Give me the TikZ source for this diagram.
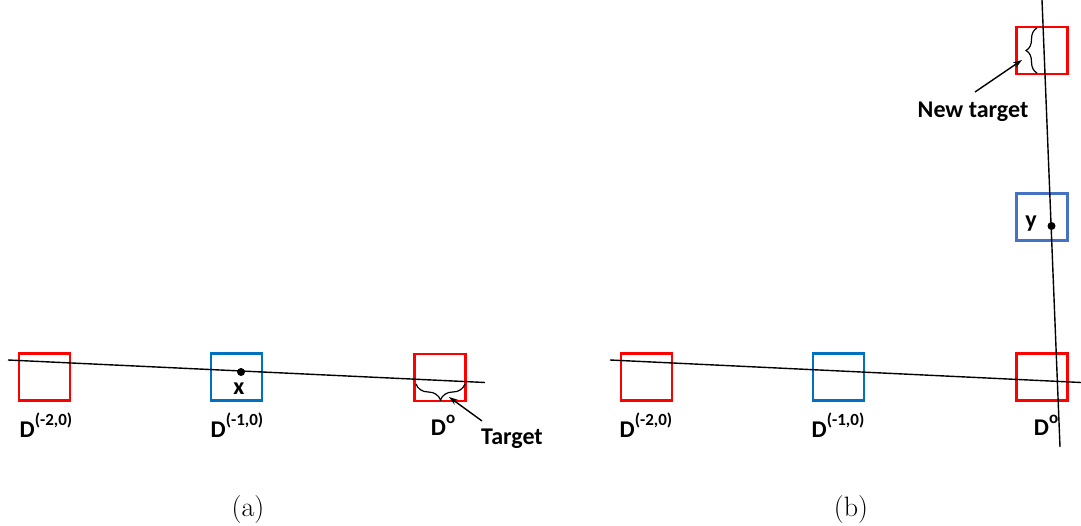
\documentclass[tikz,border=0pt]{standalone}
\usepackage{fontspec}
\setmainfont{Carlito}
\newfontfamily\lmfont{Latin Modern Roman}
\usetikzlibrary{decorations.pathreplacing,arrows.meta}
\definecolor{boxred}{RGB}{255,0,0}
\definecolor{boxblue}{RGB}{0,112,192}
\definecolor{boxblueb}{RGB}{68,114,196}
\newcommand\Dlab[1]{D\raisebox{0.5em}{\fontsize{17}{17}\selectfont #1}}
\begin{document}
\begin{tikzpicture}[x=1pt,y=-1pt,
  cell/.style={draw,line width=2.6pt,minimum width=51pt,minimum height=47pt,inner sep=0pt},
  redcell/.style={cell,draw=boxred},
  bluecell/.style={cell,draw=boxblue},
  bluecellb/.style={cell,draw=boxblueb},
  ray/.style={line width=1.4pt},
  lab/.style={font=\fontsize{24}{26}\selectfont\bfseries,inner sep=0pt},
  captext/.style={font=\lmfont\fontsize{28}{30}\selectfont,inner sep=0pt},
  dot/.style={circle,fill=black,inner sep=0pt,minimum size=8pt},
  brc/.style={decorate,decoration={brace,amplitude=#1},line width=1.2pt},
  arr/.style={line width=1.4pt,-{Stealth[length=9pt,width=6pt]}}]
\useasboundingbox (0,0) rectangle (1081,526);
% ---------- panel (a)
\node[redcell] (ar1) at (44.5,377) {};
\node[bluecell] (ab) at (236.5,377) {};
\node[redcell] (ar3) at (440,377.5) {};
\coordinate (al1) at (8,360);
\coordinate (al2) at (485,382.5);
\draw[ray] (al1) -- (al2);
\node[dot] (xd) at (241,372) {};
\node[lab] (xl) at (239,389) {x};
\node[lab] (ad1) at (46,425) {\Dlab{(-2,0)}};
\node[lab] (ad2) at (237,425) {\Dlab{(-1,0)}};
\node[lab] (ad3) at (443,425) {\Dlab{o}};
\coordinate (abr1) at (465,384);
\coordinate (abr2) at (416,384);
\draw[brc=16pt] (abr1) -- (abr2);
\node[lab] (tgt) at (512,439) {Target};
\coordinate (ta) at (482,421);
\coordinate (tb) at (449,397);
\draw[arr] (ta) -- (tb);
\node[captext] (capa) at (248,510) {(a)};
% ---------- panel (b)
\node[redcell] (br1) at (646.5,377) {};
\node[bluecell] (bb) at (838.5,377) {};
\node[redcell] (br3) at (1042,377) {};
\node[redcell] (btop) at (1042,50.5) {};
\node[bluecellb] (by) at (1042,217) {};
\coordinate (bl1) at (610,360);
\coordinate (bl2) at (1081,382.5);
\draw[ray] (bl1) -- (bl2);
\coordinate (bv1) at (1042,0);
\coordinate (bv2) at (1060,447);
\draw[ray] (bv1) -- (bv2);
\node[dot] (yd) at (1051.5,226) {};
\node[lab] (yl) at (1031,224) {y};
\node[lab] (bd1) at (646,425) {\Dlab{(-2,0)}};
\node[lab] (bd2) at (838,425) {\Dlab{(-1,0)}};
\node[lab] (bd3) at (1046,425) {\Dlab{o}};
\coordinate (bbr1) at (1037,73);
\coordinate (bbr2) at (1037,28);
\draw[brc=11pt] (bbr1) -- (bbr2);
\node[lab] (ntgt) at (973,112) {New target};
\coordinate (na) at (975,92);
\coordinate (nb) at (1022,60);
\draw[arr] (na) -- (nb);
\node[captext] (capb) at (851,510) {(b)};
\end{tikzpicture}
\end{document}
